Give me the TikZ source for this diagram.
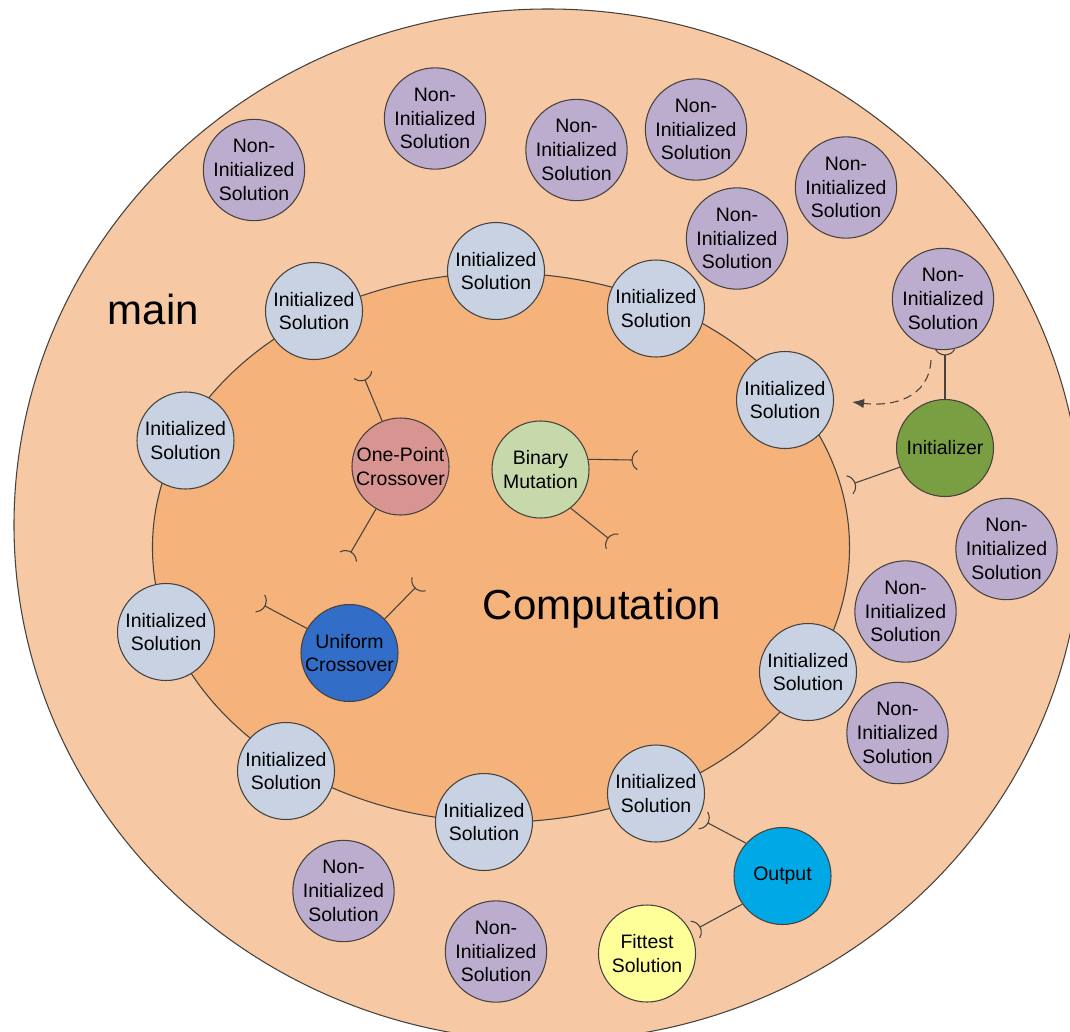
\documentclass[tikz,border=0pt]{standalone}
\usepackage{fontspec}
\setmainfont{Liberation Sans}
\usetikzlibrary{calc,arrows.meta}

\definecolor{mainfill}{RGB}{246,201,164}
\definecolor{compfill}{RGB}{245,178,123}
\definecolor{initfill}{RGB}{200,210,226}
\definecolor{noninitfill}{RGB}{188,172,206}
\definecolor{onepointfill}{RGB}{215,148,144}
\definecolor{mutfill}{RGB}{199,217,170}
\definecolor{uniformfill}{RGB}{50,110,200}
\definecolor{initializerfill}{RGB}{121,159,66}
\definecolor{outputfill}{RGB}{0,168,230}
\definecolor{fittestfill}{RGB}{255,255,153}
\definecolor{edgecol}{RGB}{70,66,62}

\tikzset{
  comp/.style={circle, draw=edgecol, line width=0.8pt, minimum size=72.75pt,
    inner sep=0pt, align=center, font=\fontsize{14.6}{17.8}\selectfont},
  initsol/.style={comp, fill=initfill},
  noninit/.style={comp, fill=noninitfill},
  conn/.style={draw=edgecol, line width=0.8pt},
  region/.style={draw=edgecol, line width=0.8pt},
  biglabel/.style={font=\fontsize{31.5}{36}\selectfont},
}

% straight connector ending in a required-interface socket (open arc)
\newcommand{\socketline}[2]{%
  \draw[conn] (#1) -- (#2);
  \draw[conn] let \p1=($(#2)-(#1)$), \n1={atan2(\y1,\x1)} in
    ($(#2)+(\n1:8.25pt)+({\n1+120}:8.25pt)$)
    arc[start angle={\n1+120}, delta angle=120, radius=8.25pt];
}

\begin{document}
\begin{tikzpicture}[x=0.75pt, y=-0.75pt]
  \path[use as bounding box] (0,0) rectangle (1070,1031);
  \clip (0,0) rectangle (1070,1031);

  % main and computation regions
  \draw[region, fill=mainfill] (548,525) ellipse [x radius=400.5pt, y radius=387pt];
  \draw[region, fill=compfill] (501,547.5) ellipse [x radius=261.4pt, y radius=205.9pt];

  \node[biglabel] (mainlabel) at (153.5,309) {main};
  \node[biglabel] (complabel) at (602,609) {Computation};

  % non-initialized solutions
  \node[noninit] (n1)  at (254,170)   {Non-\\Initialized\\Solution};
  \node[noninit] (n2)  at (435,118.5) {Non-\\Initialized\\Solution};
  \node[noninit] (n3)  at (576.5,150) {Non-\\Initialized\\Solution};
  \node[noninit] (n4)  at (696,129.5) {Non-\\Initialized\\Solution};
  \node[noninit] (n5)  at (846,187.5) {Non-\\Initialized\\Solution};
  \node[noninit] (n6)  at (737,238.5) {Non-\\Initialized\\Solution};
  \node[noninit] (n7)  at (943,299)   {Non-\\Initialized\\Solution};
  \node[noninit] (n8)  at (1006.5,549){Non-\\Initialized\\Solution};
  \node[noninit] (n9)  at (905.5,611.5){Non-\\Initialized\\Solution};
  \node[noninit] (n10) at (897.5,733) {Non-\\Initialized\\Solution};
  \node[noninit] (n11) at (343.5,891) {Non-\\Initialized\\Solution};
  \node[noninit] (n12) at (496,951.5) {Non-\\Initialized\\Solution};

  % initialized solutions on the computation border
  \node[initsol] (s1)  at (314,311)   {Initialized\\Solution};
  \node[initsol] (s2)  at (496,271)   {Initialized\\Solution};
  \node[initsol] (s3)  at (656,308.5) {Initialized\\Solution};
  \node[initsol] (s4)  at (785,400)   {Initialized\\Solution};
  \node[initsol] (s5)  at (185.5,440.5){Initialized\\Solution};
  \node[initsol] (s6)  at (166,632)   {Initialized\\Solution};
  \node[initsol] (s7)  at (286,771)   {Initialized\\Solution};
  \node[initsol] (s8)  at (484,822)   {Initialized\\Solution};
  \node[initsol] (s9)  at (656,793.5) {Initialized\\Solution};
  \node[initsol] (s10) at (808,672)   {Initialized\\Solution};

  % operators
  \node[comp, fill=onepointfill] (op) at (400.5,466.5) {One-Point\\Crossover};
  \node[comp, fill=mutfill]      (bm) at (540.5,469.5) {Binary\\Mutation};
  \node[comp, fill=uniformfill]  (uc) at (349.5,653)   {Uniform\\Crossover};
  \node[comp, fill=initializerfill] (init) at (945,448) {Initializer};
  \node[comp, fill=outputfill]   (out) at (782.5,876)  {Output};
  \node[comp, fill=fittestfill]  (fit) at (647,953.5)  {Fittest\\Solution};

  % socket ends
  \coordinate (opA) at (365,380);
  \coordinate (opB) at (351,552);
  \coordinate (bmA) at (632,460);
  \coordinate (bmB) at (608,538);
  \coordinate (ucA) at (415,588);
  \coordinate (ucB) at (265,606);
  \coordinate (initA) at (945,355);
  \coordinate (initB) at (855,483);
  \coordinate (outA) at (708,823);
  \coordinate (outB) at (700,927);

  \socketline{op.112}{opA}
  \socketline{op.240}{opB}
  \socketline{bm.12}{bmA}
  \socketline{bm.308}{bmB}
  \socketline{uc.44}{ucA}
  \socketline{uc.150}{ucB}
  \socketline{init.90}{initA}
  \socketline{init.203}{initB}
  \socketline{out.138}{outA}
  \socketline{out.215}{outB}

  % initialization flow
  \coordinate (flowstart) at (931,360);
  \coordinate (flowend) at (852,402);
  \draw[conn, dash pattern=on 6.5pt off 4pt,
        -{Latex[length=9pt,width=7pt]}]
    (flowstart) .. controls (929,398) and (893,407) .. (flowend);
\end{tikzpicture}
\end{document}
